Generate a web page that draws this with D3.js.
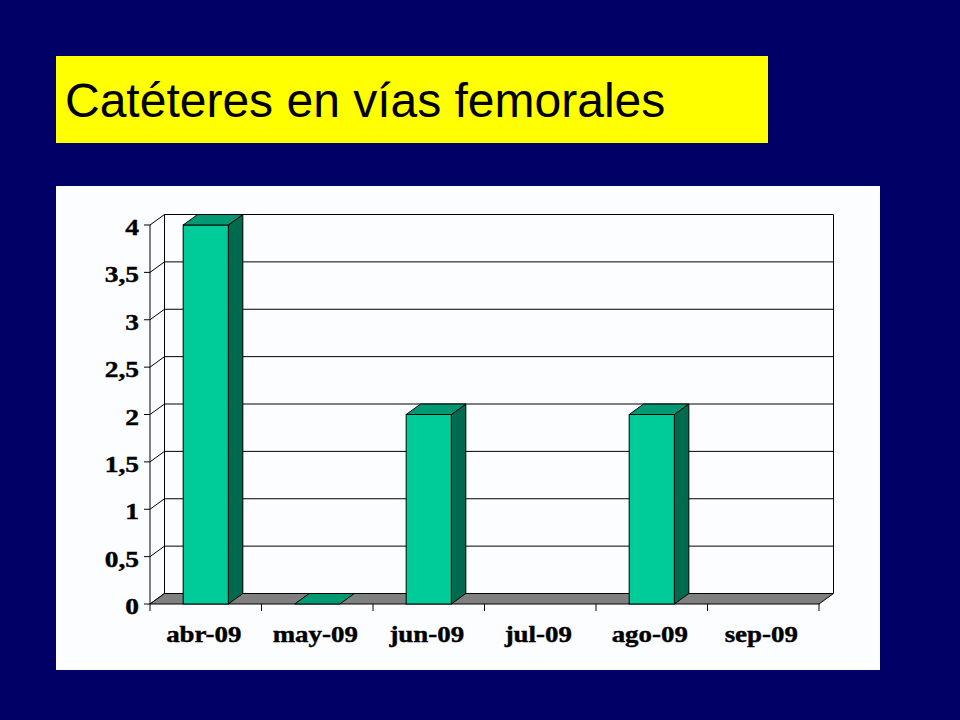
<!DOCTYPE html>
<html>
<head>
<meta charset="utf-8">
<script src="https://cdn.jsdelivr.net/npm/d3@7"></script>
<style>
  html, body { margin: 0; padding: 0; background: #000066; }
  svg { display: block; }
</style>
</head>
<body>
<svg id="chart" width="960" height="720"></svg>
<script>
// ---- data ----
const title = "Catéteres en vías femorales";
const categories = ["abr-09", "may-09", "jun-09", "jul-09", "ago-09", "sep-09"];
const values = [4, 0, 2, null, 2, null];
const yTicks = [0, 0.5, 1, 1.5, 2, 2.5, 3, 3.5, 4];
const yTickLabels = ["0", "0,5", "1", "1,5", "2", "2,5", "3", "3,5", "4"];

// ---- layout ----
const svg = d3.select("#chart");
const W = 960, H = 720;
svg.append("rect").attr("width", W).attr("height", H).attr("fill", "#000066");

// title box
svg.append("rect").attr("x", 56).attr("y", 56).attr("width", 712).attr("height", 87).attr("fill", "#ffff00");
svg.append("text").attr("x", 65).attr("y", 117)
  .attr("font-family", "'Liberation Sans', Arial, sans-serif")
  .attr("font-size", 48).attr("fill", "#000").text(title);

// chart panel
svg.append("rect").attr("x", 56).attr("y", 186).attr("width", 824).attr("height", 484).attr("fill", "#fcfdff");

const x0 = 150, x1 = 819;
const dx = 14.5, dy = -10.5;
const x = d3.scaleBand().domain(categories).range([x0, x1]).padding(0);
const y = d3.scaleLinear().domain([0, 4]).range([604, 225]);
const barW = x.bandwidth() * 0.405;

const g = svg.append("g");
const line = (pts) => "M" + pts.map(p => p.join(",")).join("L") + "Z";
const open = (pts) => "M" + pts.map(p => p.join(",")).join("L");

// back wall gridlines and left wall diagonals
yTicks.forEach(t => {
  const yf = y(t), yb = y(t) + dy;
  const pts = t > 0 ? [[x0, yf], [x0 + dx, yb], [x1 + dx, yb]] : [[x0, yf], [x0 + dx, yb]];
  g.append("path").attr("d", open(pts))
    .attr("fill", "none").attr("stroke", "#000").attr("stroke-width", 1);
});
// wall edges
g.append("line").attr("x1", x0 + dx).attr("x2", x0 + dx).attr("y1", y(4) + dy).attr("y2", y(0) + dy)
  .attr("stroke", "#000");
g.append("line").attr("x1", x1 + dx).attr("x2", x1 + dx).attr("y1", y(4) + dy).attr("y2", y(0) + dy)
  .attr("stroke", "#000");

// floor
g.append("path").attr("d", line([[x0, y(0)], [x1, y(0)], [x1 + dx, y(0) + dy], [x0 + dx, y(0) + dy]]))
  .attr("fill", "#808080").attr("stroke", "#000").attr("stroke-width", 1);

// y axis
g.append("line").attr("x1", x0).attr("x2", x0).attr("y1", y(4)).attr("y2", y(0)).attr("stroke", "#000");
const labelFont = "'Liberation Serif', 'Times New Roman', serif";
yTicks.forEach((t, i) => {
  g.append("line").attr("x1", x0 - 6).attr("x2", x0).attr("y1", y(t)).attr("y2", y(t)).attr("stroke", "#000");
  g.append("text")
    .attr("transform", `translate(139,${y(t) + 10}) scale(1.17,1)`)
    .attr("text-anchor", "end")
    .attr("font-family", labelFont)
    .attr("font-weight", "bold").attr("font-size", 23.5).attr("fill", "#000")
    .attr("stroke", "#000").attr("stroke-width", 0.4)
    .text(yTickLabels[i]);
});

// x axis ticks
const bounds = categories.map(c => x(c)).concat([x1]);
bounds.forEach(b => {
  g.append("line").attr("x1", b).attr("x2", b).attr("y1", y(0)).attr("y2", y(0) + 7).attr("stroke", "#000");
});
categories.forEach(c => {
  g.append("text")
    .attr("transform", `translate(${x(c) + x.bandwidth() / 2 - 2},642) scale(1.17,1)`)
    .attr("text-anchor", "middle")
    .attr("font-family", labelFont)
    .attr("font-weight", "bold").attr("font-size", 23).attr("fill", "#000")
    .attr("stroke", "#000").attr("stroke-width", 0.4)
    .text(c);
});

// bars (null = no data, nothing drawn)
categories.forEach((c, i) => {
  const v = values[i];
  if (v === null) return;
  const cx = x(c) + x.bandwidth() / 2;
  const bx0 = cx - barW / 2, bx1 = cx + barW / 2;
  const yt = y(v), yb = y(0);
  const bg = g.append("g");
  if (v > 0) {
    bg.append("path").attr("d", line([[bx1, yt], [bx1 + dx, yt + dy], [bx1 + dx, yb + dy], [bx1, yb]]))
      .attr("fill", "#006a4e").attr("stroke", "#000").attr("stroke-width", 1);
    bg.append("rect").attr("x", bx0).attr("y", yt).attr("width", barW).attr("height", yb - yt)
      .attr("fill", "#00cc99").attr("stroke", "#000").attr("stroke-width", 1);
  }
  bg.append("path").attr("d", line([[bx0, yt], [bx1, yt], [bx1 + dx, yt + dy], [bx0 + dx, yt + dy]]))
    .attr("fill", "#009973").attr("stroke", "#000").attr("stroke-width", 1);
});
</script>
</body>
</html>
